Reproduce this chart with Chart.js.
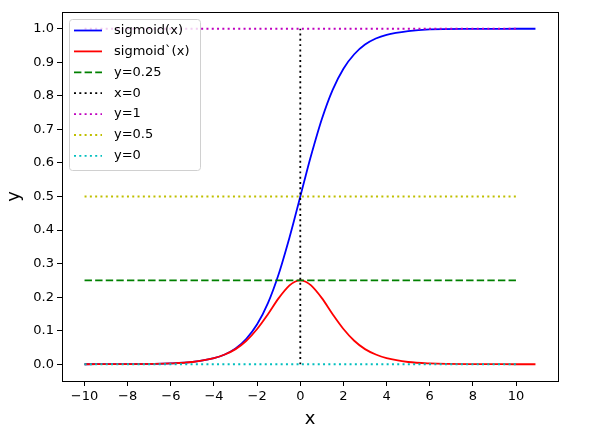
<!DOCTYPE html>
<html lang="en">

<head>
  <meta charset="UTF-8">
  <title>Sigmoid</title>
  <style>
    html, body { margin: 0; padding: 0; background: #fff; }
    #wrap { width: 589px; height: 434px; }
  </style>
</head>

<body>
  <div id="wrap">
    <canvas id="chart" width="589" height="434"></canvas>
  </div>

  <script src="https://cdn.jsdelivr.net/npm/chart.js"></script>
  <script>
    // x positions (denser around the middle)
    const xs = [-10, -8, -6, -5, -4, -3.5, -3, -2.5, -2, -1.5, -1, -0.5, -0.25, 0,
      0.25, 0.5, 1, 1.5, 2, 2.5, 3, 3.5, 4, 5, 6, 8, 10, 10.9];
    const sigmoidVals = [0.0000, 0.0003, 0.0025, 0.0067, 0.018, 0.029, 0.047, 0.076, 0.119, 0.182,
      0.269, 0.378, 0.438, 0.5, 0.562, 0.622, 0.731, 0.818, 0.881, 0.924, 0.953, 0.971, 0.982,
      0.993, 0.998, 0.9997, 1.0, 1.0];
    const derivVals = [0.0000, 0.0003, 0.0025, 0.0066, 0.018, 0.029, 0.045, 0.070, 0.105, 0.149,
      0.197, 0.235, 0.246, 0.25, 0.246, 0.235, 0.197, 0.149, 0.105, 0.070, 0.045, 0.029, 0.018,
      0.0066, 0.0025, 0.0003, 0.0000, 0.0000];

    // reference lines
    const hLineX = [-10, 10];
    const vLineY = [0, 1];

    const xTicks = [-10, -8, -6, -4, -2, 0, 2, 4, 6, 8, 10];
    const yTicks = [0.0, 0.1, 0.2, 0.3, 0.4, 0.5, 0.6, 0.7, 0.8, 0.9, 1.0];

    const pts = (xa, ya) => xa.map((x, i) => ({ x: x, y: ya[i] }));
    const hline = (y) => hLineX.map(x => ({ x: x, y: y }));

    const LW = 1.8;
    const dotted = [2, 3.3];
    const dashed = [7.4, 3.2];

    const datasets = [
      { label: 'sigmoid(x)', data: pts(xs, sigmoidVals), borderColor: '#0000ff', dash: [] },
      { label: 'sigmoid`(x)', data: pts(xs, derivVals), borderColor: '#ff0000', dash: [] },
      { label: 'y=0.25', data: hline(0.25), borderColor: '#008000', dash: dashed },
      { label: 'x=0', data: vLineY.map(y => ({ x: 0, y: y })), borderColor: '#000000', dash: dotted },
      { label: 'y=1', data: hline(1), borderColor: '#bf00bf', dash: dotted },
      { label: 'y=0.5', data: hline(0.5), borderColor: '#bfbf00', dash: dotted },
      { label: 'y=0', data: hline(0), borderColor: '#00bfbf', dash: dotted },
    ].map((d, i, arr) => ({
      label: d.label,
      data: d.data,
      borderColor: d.borderColor,
      borderDash: d.dash,
      borderWidth: LW,
      pointRadius: 0,
      fill: false,
      showLine: true,
      cubicInterpolationMode: 'monotone',
      borderCapStyle: 'butt',
      order: arr.length - i, // later series drawn on top, like matplotlib
    }));

    // box around the plot area plus a matplotlib-like legend
    const framePlugin = {
      id: 'frame',
      afterDraw(chart) {
        const ctx = chart.ctx;
        const a = chart.chartArea;
        ctx.save();
        ctx.strokeStyle = '#000';
        ctx.lineWidth = 1;
        ctx.strokeRect(a.left + 0.5, a.top + 0.5, a.right - a.left, a.bottom - a.top);

        // legend
        const bx = 69, by = 19, bw = 131, bh = 151;
        ctx.fillStyle = 'rgba(255,255,255,0.8)';
        ctx.strokeStyle = '#d0d0d0';
        ctx.beginPath();
        ctx.roundRect(bx + 0.5, by + 0.5, bw, bh, 3);
        ctx.fill();
        ctx.stroke();
        ctx.font = '13px "DejaVu Sans"';
        ctx.textBaseline = 'middle';
        chart.data.datasets.forEach((d, i) => {
          const y = by + 11.5 + i * 20.9;
          ctx.strokeStyle = d.borderColor;
          ctx.lineWidth = LW;
          ctx.setLineDash(d.borderDash);
          ctx.beginPath();
          ctx.moveTo(74, y);
          ctx.lineTo(102, y);
          ctx.stroke();
          ctx.setLineDash([]);
          ctx.fillStyle = '#000';
          ctx.fillText(d.label, 114, y);
        });
        ctx.restore();
      }
    };

    Chart.defaults.font.family = '"DejaVu Sans"';
    Chart.defaults.color = '#000';

    new Chart(document.getElementById('chart'), {
      type: 'scatter',
      data: { datasets: datasets },
      plugins: [framePlugin],
      options: {
        responsive: false,
        animation: false,
        layout: { padding: { left: 0, top: 12, right: 31, bottom: 0 } },
        plugins: { legend: { display: false }, tooltip: { enabled: false } },
        scales: {
          x: {
            type: 'linear',
            min: -11.045,
            max: 11.945,
            afterBuildTicks: (axis) => { axis.ticks = xTicks.map(v => ({ value: v })); },
            afterFit: (axis) => { axis.height = 53; },
            grid: { display: true, drawOnChartArea: false, color: '#000', tickLength: 5, tickWidth: 1 },
            border: { display: false },
            ticks: {
              font: { size: 13 },
              padding: 3,
              maxRotation: 0,
              autoSkip: false,
              callback: (v) => (v < 0 ? '\u2212' + Math.abs(v) : String(v)),
            },
            title: { display: true, text: 'x', font: { size: 18 }, padding: { top: 0, bottom: 4 } },
          },
          y: {
            type: 'linear',
            min: -0.05,
            max: 1.05,
            afterBuildTicks: (axis) => { axis.ticks = yTicks.map(v => ({ value: v })); },
            afterFit: (axis) => { axis.width = 62; },
            grid: { display: true, drawOnChartArea: false, color: '#000', tickLength: 5, tickWidth: 1 },
            border: { display: false },
            ticks: {
              font: { size: 13 },
              padding: 3,
              autoSkip: false,
              callback: (v) => v.toFixed(1),
            },
            title: { display: true, text: 'y', font: { size: 18 }, padding: { top: 4, bottom: 0 } },
          },
        },
      },
    });
  </script>
</body>

</html>
